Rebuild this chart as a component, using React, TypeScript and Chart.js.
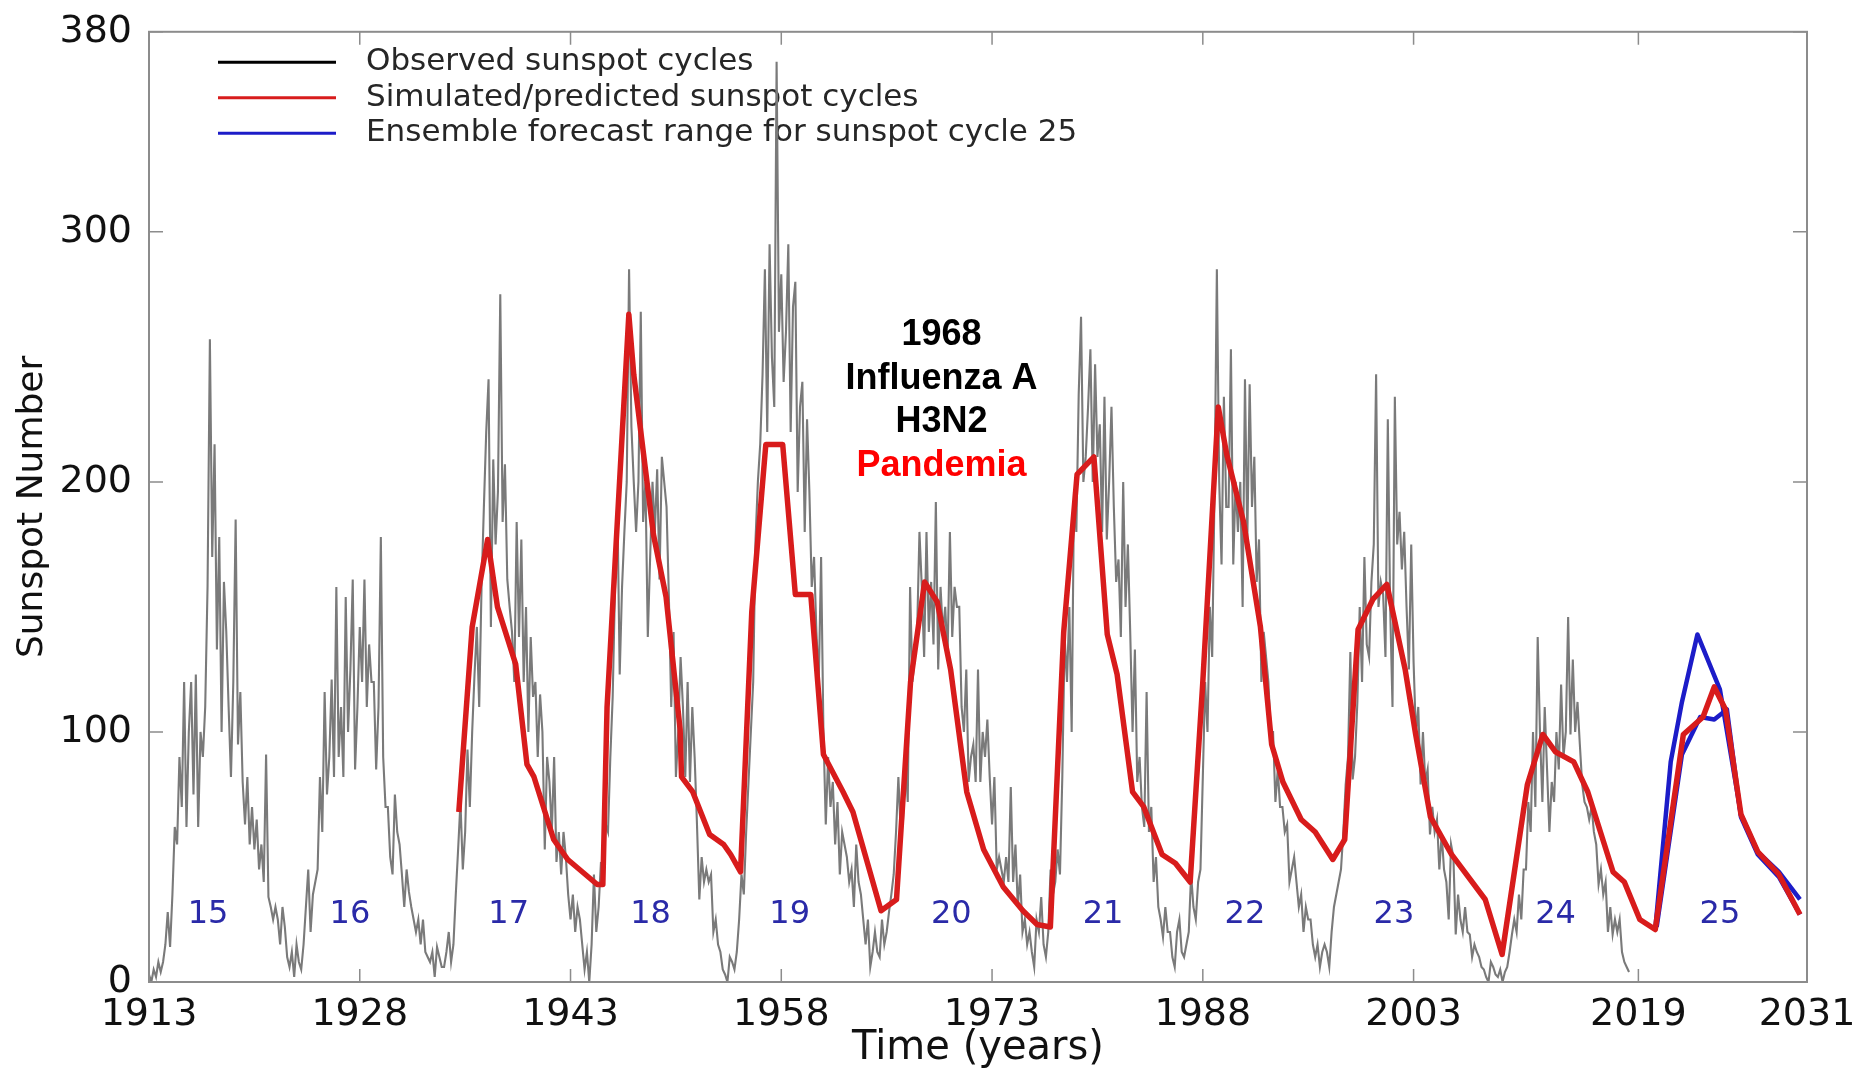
import React, { useEffect, useRef } from 'react';
import { Chart, registerables } from 'chart.js';

Chart.register(...registerables);

// ---------- axis ticks ----------
const X_TICKS = [1913, 1928, 1943, 1958, 1973, 1988, 2003, 2019, 2031];
const Y_TICKS = [0, 100, 200, 300, 380];

// ---------- observed sunspot number (bimonthly samples) ----------
const OBS_START = 1913;
const OBS_STEP = 1 / 6;
const OBS_VALUES = [
  3, 0, 5, 2, 8, 4, // 1913
  8, 15, 28, 14, 35, 62, // 1914
  55, 90, 70, 120, 62, 100, // 1915
  120, 75, 123, 62, 100, 90, // 1916
  110, 158, 257, 170, 215, 133, // 1917
  178, 100, 160, 140, 110, 82, // 1918
  120, 185, 95, 116, 80, 63, // 1919
  82, 55, 70, 53, 65, 45, // 1920
  55, 40, 91, 34, 30, 25, // 1921
  30, 25, 15, 30, 22, 10, // 1922
  6, 12, 2, 15, 8, 5, // 1923
  15, 30, 45, 20, 35, 40, // 1924
  45, 82, 60, 116, 75, 90, // 1925
  121, 82, 158, 90, 110, 82, // 1926
  154, 100, 125, 161, 85, 110, // 1927
  142, 120, 161, 110, 135, 120, // 1928
  120, 85, 110, 178, 90, 70, // 1929
  70, 50, 43, 75, 60, 55, // 1930
  43, 30, 45, 36, 30, 25, // 1931
  20, 25, 15, 25, 12, 10, // 1932
  8, 12, 2, 14, 10, 6, // 1933
  6, 12, 20, 8, 15, 35, // 1934
  53, 72, 45, 60, 93, 70, // 1935
  100, 123, 142, 110, 158, 190, // 1936
  220, 241, 142, 209, 175, 196, // 1937
  275, 184, 207, 161, 150, 140, // 1938
  120, 184, 138, 177, 120, 150, // 1939
  100, 138, 114, 120, 90, 115, // 1940
  100, 53, 90, 80, 60, 90, // 1941
  48, 60, 43, 60, 50, 35, // 1942
  25, 35, 20, 30, 25, 15, // 1943
  5, 12, 0, 15, 43, 20, // 1944
  30, 48, 40, 63, 60, 90, // 1945
  114, 158, 192, 123, 158, 180, // 1946
  200, 285, 222, 200, 180, 200, // 1947
  268, 184, 200, 138, 170, 200, // 1948
  180, 205, 161, 210, 200, 190, // 1949
  154, 110, 140, 82, 100, 130, // 1950
  110, 82, 120, 80, 110, 90, // 1951
  63, 33, 50, 40, 45, 40, // 1952
  43, 20, 25, 15, 12, 5, // 1953
  3, 0, 10, 8, 5, 12, // 1954
  25, 43, 35, 60, 80, 100, // 1955
  120, 177, 200, 215, 243, 285, // 1956
  220, 295, 250, 230, 368, 260, // 1957
  283, 240, 260, 295, 220, 270, // 1958
  280, 196, 230, 240, 180, 225, // 1959
  196, 158, 170, 140, 120, 170, // 1960
  100, 63, 90, 70, 80, 55, // 1961
  72, 43, 60, 55, 50, 40, // 1962
  45, 30, 55, 40, 35, 25, // 1963
  15, 25, 6, 12, 20, 12, // 1964
  10, 25, 15, 20, 28, 35, // 1965
  43, 60, 82, 60, 65, 90, // 1966
  72, 158, 120, 130, 140, 180, // 1967
  158, 130, 180, 140, 160, 135, // 1968
  192, 125, 158, 140, 150, 130, // 1969
  180, 138, 158, 150, 150, 110, // 1970
  100, 125, 80, 90, 95, 80, // 1971
  125, 80, 100, 90, 105, 82, // 1972
  63, 82, 45, 50, 45, 40, // 1973
  50, 40, 78, 40, 55, 30, // 1974
  43, 20, 25, 15, 20, 12, // 1975
  6, 25, 20, 34, 15, 10, // 1976
  20, 45, 35, 40, 53, 43, // 1977
  82, 138, 120, 150, 100, 196, // 1978
  180, 235, 266, 200, 210, 230, // 1979
  253, 200, 247, 210, 223, 180, // 1980
  234, 177, 200, 230, 190, 160, // 1981
  169, 138, 200, 150, 175, 140, // 1982
  100, 133, 80, 90, 70, 62, // 1983
  116, 60, 70, 40, 50, 30, // 1984
  25, 18, 30, 20, 20, 10, // 1985
  6, 20, 25, 12, 10, 15, // 1986
  20, 43, 30, 25, 40, 45, // 1987
  82, 120, 100, 150, 130, 196, // 1988
  285, 200, 167, 234, 190, 190, // 1989
  253, 167, 200, 180, 200, 150, // 1990
  241, 177, 239, 190, 210, 160, // 1991
  177, 120, 140, 130, 120, 100, // 1992
  100, 72, 85, 70, 70, 60, // 1993
  63, 40, 45, 50, 40, 30, // 1994
  35, 20, 30, 25, 25, 15, // 1995
  10, 15, 6, 12, 15, 12, // 1996
  6, 20, 30, 35, 40, 45, // 1997
  60, 79, 90, 132, 81, 90, // 1998
  112, 150, 120, 170, 135, 130, // 1999
  160, 175, 243, 150, 160, 155, // 2000
  130, 225, 150, 110, 234, 175, // 2001
  188, 165, 180, 150, 125, 175, // 2002
  128, 99, 110, 79, 100, 80, // 2003
  85, 59, 70, 60, 65, 45, // 2004
  59, 45, 40, 25, 55, 50, // 2005
  19, 35, 25, 20, 30, 20, // 2006
  19, 10, 15, 12, 10, 6, // 2007
  5, 2, 0, 8, 6, 3, // 2008
  2, 5, 0, 4, 6, 12, // 2009
  19, 25, 20, 35, 25, 45, // 2010
  45, 72, 60, 100, 70, 138, // 2011
  99, 72, 110, 85, 60, 80, // 2012
  72, 100, 85, 119, 90, 100, // 2013
  146, 99, 129, 100, 112, 95, // 2014
  79, 72, 70, 65, 70, 60, // 2015
  55, 39, 45, 35, 40, 20, // 2016
  30, 19, 25, 20, 25, 12, // 2017
  8, 6, 4, // 2018
];

// ---------- simulated / predicted cycles (red) ----------
const SIM_YEARS = [
  1935.05, 1936.0, 1937.1, 1937.8, 1939.1, 1939.9, 1940.4, 1941.8, 1942.8, 1944.9, 1945.3, 1945.6, 1947.15,
  1947.5, 1948.2, 1948.9, 1949.8, 1950.8, 1950.9, 1951.7, 1952.9, 1953.9, 1954.4, 1955.1, 1955.9, 1956.9,
  1958.1, 1959.0, 1960.1, 1961.0, 1962.4, 1963.1, 1965.1, 1966.2, 1967.2, 1968.2, 1969.1, 1970.05, 1971.2,
  1972.4, 1973.8, 1975.2, 1976.2, 1977.15, 1978.1, 1979.05, 1980.25, 1981.2, 1981.9, 1983.0, 1983.8, 1985.1,
  1986.05, 1987.1, 1988.0, 1989.1, 1989.7, 1990.9, 1992.1, 1992.9, 1993.7, 1995.0, 1996.0, 1997.25, 1998.1,
  1999.05, 2000.1, 2001.1, 2002.4, 2003.15, 2004.2, 2005.7, 2008.1, 2009.3, 2011.1, 2012.2, 2013.1, 2014.4,
  2015.4, 2017.2, 2018.0, 2019.1, 2020.2, 2022.2, 2023.6, 2024.4, 2025.2, 2026.3, 2027.5, 2029.0, 2030.5,
];
const SIM_VALUES = [
  68, 142, 177, 150, 127, 87, 82, 57, 49, 39, 39, 110, 267,
  243, 211, 179, 154, 101, 82, 76, 59, 55, 51, 44, 148, 215,
  215, 155, 155, 91, 76, 68, 28.5, 33, 120, 160, 152, 125, 76,
  53, 38, 28.5, 23, 22, 140, 203, 210, 139, 123, 76, 70, 51,
  47.5, 40, 120, 230, 211, 184, 142, 95, 80, 65, 60, 49, 57,
  141, 153, 159, 125, 99, 66, 51, 33, 11, 79, 99, 92, 88,
  76, 44, 40, 25, 21, 99, 106, 118, 109, 67, 52, 43, 27,
];

// ---------- ensemble forecast range for cycle 25 (blue) ----------
const ENS_HIGH_YEARS = [2020.2, 2021.3, 2022.1, 2023.2, 2024.8, 2026.3, 2027.5, 2029.0, 2030.5];
const ENS_HIGH_VALUES = [21, 88, 112, 139, 117, 67, 52, 44, 33];
const ENS_LOW_YEARS = [2020.3, 2022.1, 2023.4, 2024.4, 2025.3, 2026.3, 2027.5, 2029.0, 2030.5];
const ENS_LOW_VALUES = [22, 91, 106, 105, 109, 66, 51, 42, 27];

// ---------- cycle numbers ----------
const CYCLE_NUMBERS = ['15', '16', '17', '18', '19', '20', '21', '22', '23', '24', '25'];
const CYCLE_YEARS = [1917.2, 1927.3, 1938.6, 1948.7, 1958.6, 1970.1, 1980.9, 1991.0, 2001.6, 2013.1, 2024.8];
const CYCLE_LEVEL = 27;

// ---------- legend & note ----------
const LEGEND_LABELS = [
  'Observed sunspot cycles',
  'Simulated/predicted sunspot cycles',
  'Ensemble forecast range for sunspot cycle 25',
];
const LEGEND_COLORS = ['#000000', '#d81c1c', '#1c1cc8'];
const NOTE_LINES = ['1968', 'Influenza A', 'H3N2', 'Pandemia'];
const NOTE_COLORS = ['#000000', '#000000', '#000000', '#ff0000'];
const NOTE_YEAR = 1969.4;
const NOTE_VALUE = 258.7;

const FONT = "'DejaVu Sans', sans-serif";

const decorPlugin = {
  id: 'decor',
  beforeDatasetsDraw(chart: any) {
    const { ctx, chartArea: a } = chart;
    ctx.save();
    ctx.font = `31px ${FONT}`;
    ctx.textBaseline = 'middle';
    ctx.textAlign = 'left';
    LEGEND_LABELS.forEach((label, i) => {
      const y = a.top + 30.5 + i * 35.5;
      ctx.strokeStyle = LEGEND_COLORS[i];
      ctx.lineWidth = 3;
      ctx.beginPath();
      ctx.moveTo(a.left + 69, y);
      ctx.lineTo(a.left + 187, y);
      ctx.stroke();
      ctx.fillStyle = '#262626';
      ctx.fillText(label, a.left + 217, y);
    });
    ctx.restore();
  },
  afterDatasetsDraw(chart: any) {
    const { ctx, chartArea: a, scales } = chart;
    const xs = scales.x;
    const ys = scales.y;
    ctx.save();
    // frame
    ctx.strokeStyle = '#8c8c8c';
    ctx.lineWidth = 2;
    ctx.strokeRect(a.left, a.top, a.right - a.left, a.bottom - a.top);
    // inward ticks
    ctx.lineWidth = 1.5;
    ctx.beginPath();
    X_TICKS.forEach((v) => {
      const x = xs.getPixelForValue(v);
      ctx.moveTo(x, a.bottom);
      ctx.lineTo(x, a.bottom - 13);
      ctx.moveTo(x, a.top);
      ctx.lineTo(x, a.top + 13);
    });
    Y_TICKS.forEach((v) => {
      const y = ys.getPixelForValue(v);
      ctx.moveTo(a.left, y);
      ctx.lineTo(a.left + 14, y);
      ctx.moveTo(a.right, y);
      ctx.lineTo(a.right - 14, y);
    });
    ctx.stroke();
    // cycle numbers
    ctx.font = `32px ${FONT}`;
    ctx.fillStyle = '#2a2aa8';
    ctx.textAlign = 'center';
    ctx.textBaseline = 'middle';
    CYCLE_NUMBERS.forEach((label, i) => {
      ctx.fillText(label, xs.getPixelForValue(CYCLE_YEARS[i]), ys.getPixelForValue(CYCLE_LEVEL));
    });
    // note
    ctx.font = "bold 36px 'Liberation Sans', Arial, sans-serif";
    const nx = xs.getPixelForValue(NOTE_YEAR);
    const ny = ys.getPixelForValue(NOTE_VALUE);
    NOTE_LINES.forEach((line, i) => {
      ctx.fillStyle = NOTE_COLORS[i];
      ctx.fillText(line, nx, ny + i * 43.5);
    });
    ctx.restore();
  },
};

export default function App() {
  const ref = useRef<HTMLCanvasElement>(null);

  useEffect(() => {
    const obs = OBS_VALUES.map((v, i) => ({ x: OBS_START + i * OBS_STEP, y: v }));
    const sim = SIM_YEARS.map((x, i) => ({ x, y: SIM_VALUES[i] }));
    const hi = ENS_HIGH_YEARS.map((x, i) => ({ x, y: ENS_HIGH_VALUES[i] }));
    const lo = ENS_LOW_YEARS.map((x, i) => ({ x, y: ENS_LOW_VALUES[i] }));

    const chart = new Chart(ref.current as HTMLCanvasElement, {
      type: 'line',
      data: {
        datasets: [
          { label: 'Simulated/predicted sunspot cycles', data: sim, borderColor: '#d81c1c', borderWidth: 5.5, borderJoinStyle: 'round' },
          { label: 'Ensemble high', data: hi, borderColor: '#1c1cc8', borderWidth: 4.5, borderJoinStyle: 'round' },
          { label: 'Ensemble low', data: lo, borderColor: '#1c1cc8', borderWidth: 4.5, borderJoinStyle: 'round' },
          { label: 'Observed sunspot cycles', data: obs, borderColor: '#7a7a7a', borderWidth: 2.1 },
        ],
      },
      options: {
        animation: false,
        responsive: false,
        devicePixelRatio: 1,
        elements: { point: { radius: 0, hoverRadius: 0 }, line: { tension: 0, fill: false } },
        layout: { padding: { left: 0, right: 57, top: 25, bottom: 0 } },
        plugins: { legend: { display: false }, tooltip: { enabled: false } },
        events: [],
        scales: {
          x: {
            type: 'linear',
            min: 1913,
            max: 2031,
            afterBuildTicks: (axis: any) => {
              axis.ticks = X_TICKS.map((value) => ({ value }));
            },
            afterFit: (axis: any) => {
              axis.height = 89;
            },
            grid: { display: false },
            border: { display: false },
            ticks: {
              autoSkip: false,
              maxRotation: 0,
              minRotation: 0,
              padding: 2,
              color: '#111111',
              font: { family: FONT, size: 38 },
              callback: (v: any) => String(v),
            },
            title: {
              display: true,
              text: 'Time (years)',
              color: '#111111',
              font: { family: FONT, size: 40, lineHeight: 1.1 },
              padding: { top: 0, bottom: 0 },
            },
          },
          y: {
            type: 'linear',
            min: 0,
            max: 380,
            afterBuildTicks: (axis: any) => {
              axis.ticks = Y_TICKS.map((value) => ({ value }));
            },
            afterFit: (axis: any) => {
              axis.width = 149;
            },
            grid: { display: false },
            border: { display: false },
            ticks: {
              autoSkip: false,
              padding: 9,
              color: '#111111',
              font: { family: FONT, size: 38 },
              callback: (v: any) => String(v),
            },
            title: {
              display: true,
              text: 'Sunspot Number',
              color: '#111111',
              font: { family: FONT, size: 36, lineHeight: 1.2 },
              padding: { top: 11, bottom: 0 },
            },
          },
        },
      },
      plugins: [decorPlugin],
    } as any);

    return () => chart.destroy();
  }, []);

  return (
    <div style={{ position: 'fixed', left: 0, top: 0, width: 1864, height: 1071, background: '#ffffff' }}>
      <canvas ref={ref} width={1864} height={1071} style={{ display: 'block' }} />
    </div>
  );
}
